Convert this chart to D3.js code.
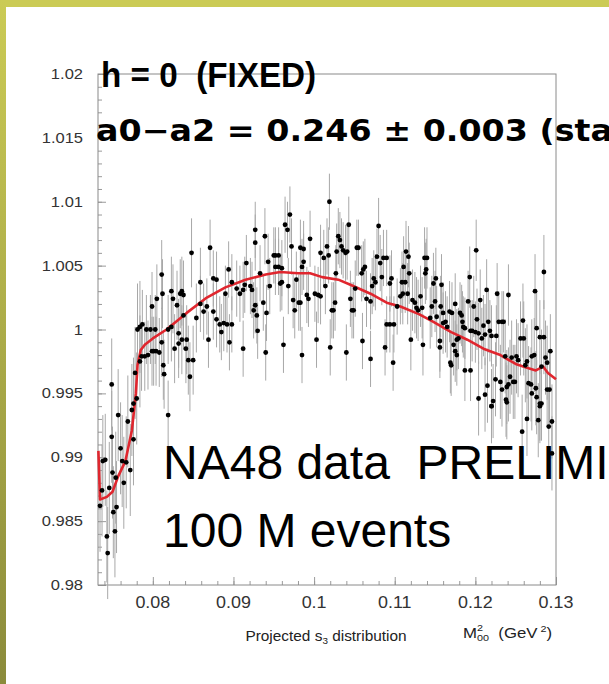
<!DOCTYPE html>
<html>
<head>
<meta charset="utf-8">
<script src="https://cdn.jsdelivr.net/npm/d3@7"></script>
<style>
  body { margin: 0; background: #fff; }
  svg { display: block; }
</style>
</head>
<body>
<svg id="chart"></svg>
<script>
// Data (M00^2 in GeV^2, data / fit ratio)

// left edge, cusp region
const edgePts = [
    [0.07345, 0.9862], [0.0737, 0.9874], [0.0738, 0.9897], [0.0741, 0.9898], [0.0743, 0.9838],
    [0.0744, 0.9825], [0.0746, 0.9876], [0.0749, 0.9916], [0.0749, 0.9957], [0.0750, 0.9888],
    [0.0751, 0.9857], [0.0753, 0.9842], [0.0754, 0.9884], [0.0755, 0.9861], [0.0757, 0.9933],
    [0.0760, 0.9907], [0.0762, 0.9897], [0.0764, 0.9880], [0.0767, 0.9896], [0.0769, 0.9928],
    [0.0772, 0.9890], [0.0774, 0.9937], [0.0776, 0.9914], [0.0776, 0.9942], [0.0778, 0.9966],
    [0.0780, 0.9946], [0.0781, 1.0000], [0.0784, 1.0002], [0.0784, 0.9975]
];

// rise after the cusp
const risePts = [
    [0.0786, 0.9979], [0.0787, 1.0004], [0.0790, 0.9979], [0.0792, 1.0000], [0.0794, 0.9980],
    [0.0797, 1.0000], [0.0799, 0.9983], [0.0799, 1.0018], [0.0801, 0.9983], [0.0803, 1.0000],
    [0.0804, 0.9983], [0.0805, 1.0024], [0.0808, 0.9982], [0.0811, 1.0043], [0.0811, 0.9990],
    [0.0812, 1.0028], [0.0813, 0.9972], [0.0814, 0.9965], [0.0819, 0.9933], [0.0819, 1.0000],
    [0.0823, 1.0002], [0.0823, 1.0030], [0.0825, 1.0024], [0.0827, 0.9985], [0.0830, 1.0019],
    [0.0832, 0.9997], [0.0832, 0.9989], [0.0834, 1.0028], [0.0836, 1.0030], [0.0836, 0.9992],
    [0.0838, 1.0027], [0.0838, 1.0011], [0.0841, 0.9985], [0.0842, 0.9992], [0.0844, 0.9976],
    [0.0846, 0.9963], [0.0848, 1.0060], [0.0850, 0.9976], [0.0854, 1.0009], [0.0859, 1.0037]
];

// broad maximum
const peakPts = [
    [0.0859, 1.0020], [0.0863, 1.0014], [0.0867, 1.0018], [0.0869, 0.9992], [0.0871, 1.0064],
    [0.0875, 1.0014], [0.0875, 1.0040], [0.0879, 1.0039], [0.0879, 1.0008], [0.0883, 1.0004],
    [0.0888, 1.0005], [0.0890, 1.0028], [0.0892, 1.0004], [0.0894, 1.0047], [0.0898, 1.0037],
    [0.0898, 1.0004], [0.0904, 1.0032], [0.0908, 1.0028], [0.0912, 1.0031], [0.0914, 1.0035],
    [0.0916, 1.0052], [0.0921, 1.0034], [0.0923, 1.0031], [0.0925, 1.0015], [0.0927, 1.0019],
    [0.0927, 1.0078], [0.0927, 1.0068], [0.0929, 1.0011], [0.0933, 1.0044], [0.0937, 1.0021],
    [0.0939, 1.0073], [0.0941, 1.0013], [0.0943, 1.0053], [0.0945, 1.0034], [0.0950, 1.0058],
    [0.0952, 1.0058], [0.0952, 1.0049], [0.0956, 1.0058], [0.0956, 1.0049], [0.0958, 1.0036],
    [0.0960, 1.0048], [0.0960, 1.0037], [0.0964, 1.0082], [0.0967, 1.0078], [0.0968, 1.0034],
    [0.0970, 1.0090], [0.0972, 1.0065], [0.0974, 1.0023], [0.0976, 1.0015], [0.0978, 1.0039],
    [0.0981, 1.0021], [0.0983, 1.0021], [0.0983, 1.0064], [0.0985, 1.0049], [0.0987, 1.0063],
    [0.0987, 1.0053], [0.0991, 1.0027], [0.0993, 1.0024], [0.0995, 1.0071], [0.1001, 1.0028],
    [0.1005, 1.0027], [0.1008, 1.0026], [0.1008, 1.0060], [0.1012, 1.0056], [0.1014, 1.0034],
    [0.1016, 1.0065], [0.1018, 1.0058], [0.1019, 1.0100], [0.1022, 1.0015], [0.1024, 1.0015],
    [0.1026, 1.0021], [0.1027, 1.0044], [0.1028, 1.0061], [0.1030, 1.0073], [0.1032, 1.0070],
    [0.1034, 1.0065], [0.1036, 1.0062], [0.1039, 1.0060], [0.1041, 1.0061], [0.1043, 1.0082],
    [0.1045, 1.0024], [0.1047, 1.0015], [0.1049, 1.0015], [0.1051, 1.0032], [0.1053, 1.0064],
    [0.1055, 1.0064], [0.1059, 1.0044], [0.1061, 1.0047], [0.1063, 1.0049], [0.1065, 1.0024],
    [0.1070, 1.0022], [0.1072, 1.0034], [0.1074, 1.0040], [0.1076, 1.0037], [0.1078, 1.0057],
    [0.1080, 1.0081], [0.1082, 1.0052], [0.1084, 1.0041], [0.1086, 1.0056], [0.1090, 1.0056],
    [0.1090, 1.0004], [0.1094, 1.0036], [0.1094, 1.0004], [0.1096, 1.0040], [0.1099, 1.0004],
    [0.1103, 1.0018], [0.1107, 1.0026]
];

// points below 1.000 under the maximum
const lowMidPts = [
    [0.0885, 0.9998], [0.0895, 0.9990], [0.0912, 0.9985], [0.0930, 0.9999], [0.0940, 0.9982],
    [0.0962, 0.9988], [0.0985, 0.9980], [0.1003, 0.9992], [0.1020, 0.9986], [0.1040, 0.9982],
    [0.1060, 0.9991], [0.1070, 0.9977], [0.1088, 0.9986], [0.1098, 0.9974]
];

// falling side
const fallPts = [
    [0.1114, 1.0061], [0.1117, 1.0057], [0.1111, 1.0049], [0.1118, 1.0044], [0.1109, 1.0037],
    [0.1113, 1.0037], [0.1110, 1.0028], [0.1116, 1.0028], [0.1137, 1.0056], [0.1140, 1.0056],
    [0.1139, 1.0047], [0.1138, 1.0044], [0.1148, 1.0036], [0.1151, 1.0040], [0.1158, 1.0035],
    [0.1122, 1.0023], [0.1125, 1.0021], [0.1127, 1.0017], [0.1129, 1.0015], [0.1134, 1.0017],
    [0.1132, 1.0026], [0.1120, 0.9992], [0.1135, 0.9988], [0.1146, 1.0018], [0.1150, 1.0022],
    [0.1157, 1.0018], [0.1160, 1.0013], [0.1163, 1.0006], [0.1165, 1.0002], [0.1168, 1.0014],
    [0.1171, 1.0013], [0.1175, 1.0020], [0.1144, 1.0009], [0.1152, 1.0010], [0.1160, 1.0005],
    [0.1156, 0.9991], [0.1156, 0.9986], [0.1183, 1.0011], [0.1181, 1.0013], [0.1184, 1.0006],
    [0.1185, 1.0002], [0.1187, 1.0001], [0.1191, 1.0022], [0.1193, 1.0041], [0.1194, 0.9999],
    [0.1196, 0.9999], [0.1198, 1.0018], [0.1200, 0.9998], [0.1202, 1.0008], [0.1201, 1.0062],
    [0.1206, 1.0023], [0.1204, 0.9997], [0.1208, 0.9993], [0.1210, 1.0003], [0.1212, 0.9996],
    [0.1214, 1.0031], [0.1216, 1.0006], [0.1218, 0.9999], [0.1220, 0.9995], [0.1226, 0.9995],
    [0.1227, 1.0028], [0.1229, 1.0006], [0.1233, 1.0006], [0.1235, 1.0006], [0.1241, 1.0027],
    [0.1173, 0.9988], [0.1175, 0.9983], [0.1177, 0.9992], [0.1179, 0.9993], [0.1177, 0.9980],
    [0.1169, 0.9974], [0.1170, 0.9972], [0.1187, 0.9968], [0.1194, 0.9968]
];

// tail towards 0.13
const tailPts = [
    [0.1204, 0.9946], [0.1212, 0.9949], [0.1215, 0.9956], [0.1222, 0.9944], [0.1220, 0.9940],
    [0.1225, 0.9961], [0.1231, 0.9959], [0.1233, 0.9953], [0.1239, 0.9955], [0.1241, 0.9957],
    [0.1243, 0.9963], [0.1247, 0.9959], [0.1249, 0.9959], [0.1237, 0.9979], [0.1245, 0.9978],
    [0.1251, 0.9979], [0.1253, 0.9976], [0.1256, 0.9993], [0.1260, 0.9993], [0.1259, 1.0007],
    [0.1238, 0.9945], [0.1262, 0.9972], [0.1264, 0.9975], [0.1270, 0.9979], [0.1273, 0.9980],
    [0.1274, 1.0030], [0.1276, 1.0001], [0.1280, 0.9994], [0.1282, 0.9971], [0.1285, 1.0045],
    [0.1287, 0.9978], [0.1289, 0.9974], [0.1289, 0.9953], [0.1282, 0.9942], [0.1285, 0.9994],
    [0.1292, 0.9953], [0.1293, 0.9983], [0.1295, 0.9928], [0.1278, 0.9929], [0.1264, 0.9930],
    [0.1266, 0.9958], [0.1269, 0.9957], [0.1275, 0.9954], [0.1270, 0.9950], [0.1280, 0.9940],
    [0.1276, 0.9947], [0.1220, 0.9940], [0.1239, 0.9943], [0.1280, 0.9942], [0.1258, 0.9920],
    [0.1291, 0.9924], [0.1295, 0.9903]
];

// statistical error (half length of the bars) per group
const groups = [
    {pts: edgePts, err: 0.0036},
    {pts: risePts, err: 0.0027},
    {pts: peakPts, err: 0.0022},
    {pts: lowMidPts, err: 0.0022},
    {pts: fallPts, err: 0.0024},
    {pts: tailPts, err: 0.0029}
];

// fitted curve (red)
const fitCurve = [
    [0.07325, 0.9905], [0.07345, 0.9867], [0.0743, 0.9869], [0.0750, 0.9873], [0.0757, 0.9885],
    [0.0766, 0.9897], [0.0774, 0.9921], [0.0779, 0.9950], [0.0781, 0.9972], [0.0785, 0.9984],
    [0.0790, 0.9988], [0.0800, 0.9993], [0.0817, 1.0000], [0.0842, 1.0013], [0.0867, 1.0025],
    [0.0890, 1.0033], [0.0915, 1.0039], [0.0940, 1.0043], [0.0958, 1.0045], [0.0980, 1.0044],
    [0.0995, 1.0044], [0.1010, 1.0041], [0.1030, 1.0039], [0.1045, 1.0035], [0.1070, 1.0028],
    [0.1090, 1.0021], [0.1107, 1.0018], [0.1130, 1.0012], [0.1148, 1.0006], [0.1170, 0.9998],
    [0.1190, 0.9992], [0.1210, 0.9985], [0.1231, 0.9980], [0.1250, 0.9973], [0.1264, 0.9970],
    [0.1275, 0.9968], [0.1284, 0.9971], [0.1290, 0.9966], [0.1300, 0.9961]
];

const yTicks = [0.98, 0.985, 0.99, 0.995, 1, 1.005, 1.01, 1.015, 1.02];
const yTickLabels = ['0.98', '0.985', '0.99', '0.995', '1', '1.005', '1.01', '1.015', '1.02'];
const xTicks = [0.08, 0.09, 0.1, 0.11, 0.12, 0.13];
const xTickLabels = ['0.08', '0.09', '0.1', '0.11', '0.12', '0.13'];

// Set standards
const width = 609;
const height = 684;
const plot = {left: 98, right: 556, top: 74, bottom: 585};

const svg = d3.select('#chart')
    .attr('width', width)
    .attr('height', height);

const x = d3.scaleLinear().domain([0.0732, 0.13]).range([plot.left, plot.right]);
const y = d3.scaleLinear().domain([0.98, 1.02]).range([plot.bottom, plot.top]);

// Slide border (olive bars on top and left)
const grad = svg.append('defs').append('linearGradient')
    .attr('id', 'side').attr('x1', 0).attr('x2', 0).attr('y1', 0).attr('y2', 1);
grad.append('stop').attr('offset', '0%').attr('stop-color', '#cbcb55');
grad.append('stop').attr('offset', '100%').attr('stop-color', '#8b8b3b');
svg.append('rect').attr('width', width).attr('height', 7).attr('fill', '#cbcb55');
svg.append('rect').attr('width', 6).attr('height', height).attr('fill', 'url(#side)');

// Minor and major ticks, pointing inwards
const tickColor = '#9a9a9a';
function styleAxis(g) {
    g.select('.domain').remove();
    g.selectAll('line').attr('stroke', tickColor);
}
svg.append('g').attr('transform', `translate(${plot.left},0)`)
    .call(d3.axisLeft(y).tickValues(d3.range(0.98, 1.0201, 0.001)).tickSize(-4).tickFormat(''))
    .call(styleAxis);
svg.append('g').attr('transform', `translate(${plot.left},0)`)
    .call(d3.axisLeft(y).tickValues(yTicks).tickSize(-8).tickFormat(''))
    .call(styleAxis);
svg.append('g').attr('transform', `translate(0,${plot.bottom})`)
    .call(d3.axisBottom(x).tickValues(d3.range(0.074, 0.1301, 0.002)).tickSize(-4).tickFormat(''))
    .call(styleAxis);
svg.append('g').attr('transform', `translate(0,${plot.bottom})`)
    .call(d3.axisBottom(x).tickValues(xTicks).tickSize(-8).tickFormat(''))
    .call(styleAxis);

// Frame
svg.append('rect')
    .attr('x', plot.left).attr('y', plot.top)
    .attr('width', plot.right - plot.left).attr('height', plot.bottom - plot.top)
    .attr('fill', 'none').attr('stroke', '#8a8a8a').attr('stroke-width', 1);

// Tick labels (the slide is stretched sideways, so are its labels)
svg.append('g').selectAll('text')
    .data(yTicks)
    .join('text')
    .attr('transform', d => `translate(83,${y(d) + 5}) scale(1.18,1)`)
    .attr('text-anchor', 'end')
    .attr('font-family', 'Liberation Sans, Arial, sans-serif')
    .attr('font-size', 14)
    .attr('fill', '#333')
    .text((d, i) => yTickLabels[i]);

svg.append('g').selectAll('text')
    .data(xTicks)
    .join('text')
    .attr('transform', d => `translate(${x(d)},608) scale(1.12,1)`)
    .attr('text-anchor', 'middle')
    .attr('font-family', 'Liberation Sans, Arial, sans-serif')
    .attr('font-size', 16)
    .attr('fill', '#333')
    .text((d, i) => xTickLabels[i]);

// Error bars and points
const plotArea = svg.append('g');
groups.forEach(grp => {
    plotArea.append('g').selectAll('line')
        .data(grp.pts)
        .join('line')
        .attr('x1', d => x(d[0])).attr('x2', d => x(d[0]))
        .attr('y1', d => y(d[1] - grp.err)).attr('y2', d => y(d[1] + grp.err))
        .attr('stroke', '#a8a8a8')
        .attr('stroke-width', 1);
});

// Fit curve
plotArea.append('path')
    .datum(fitCurve)
    .attr('d', d3.line().x(d => x(d[0])).y(d => y(d[1])))
    .attr('fill', 'none')
    .attr('stroke', '#e0262e')
    .attr('stroke-width', 2.6)
    .attr('stroke-linejoin', 'round');

groups.forEach(grp => {
    plotArea.append('g').selectAll('circle')
        .data(grp.pts)
        .join('circle')
        .attr('cx', d => x(d[0]))
        .attr('cy', d => y(d[1]))
        .attr('r', 2.4)
        .attr('fill', '#000');
});

// Axis titles
const title = svg.append('text')
    .attr('transform', 'translate(326,641) scale(1.1,1)')
    .attr('text-anchor', 'middle')
    .attr('font-family', 'Liberation Sans, Arial, sans-serif')
    .attr('font-size', 14)
    .attr('fill', '#222');
title.append('tspan').text('Projected s');
title.append('tspan').attr('font-size', 9).attr('dy', 3).text('3');
title.append('tspan').attr('dy', -3).text(' distribution');

const mTitle = svg.append('text')
    .attr('transform', 'translate(463,638) scale(1.2,1)')
    .attr('font-family', 'Liberation Sans, Arial, sans-serif')
    .attr('font-size', 14)
    .attr('fill', '#222')
    .style('white-space', 'pre');
mTitle.append('tspan').text('M');
mTitle.append('tspan').attr('font-size', 9).attr('dy', -7).text('2');
mTitle.append('tspan').attr('font-size', 9).attr('dx', -5).attr('dy', 10).text('00');
mTitle.append('tspan').attr('dy', -3).text('  (GeV');
mTitle.append('tspan').attr('font-size', 9).attr('dy', -6).text(' 2');
mTitle.append('tspan').attr('dy', 6).text(')');

// Slide annotations
svg.append('text')
    .attr('transform', 'translate(101,87) scale(0.95,1)')
    .attr('font-family', 'Liberation Sans, Arial, sans-serif')
    .attr('font-weight', 'bold')
    .attr('font-size', 35)
    .attr('fill', '#000')
    .style('white-space', 'pre')
    .text('h = 0  (FIXED)');

svg.append('text')
    .attr('transform', 'translate(96,141) scale(1.11,1)')
    .attr('font-family', 'DejaVu Sans, sans-serif')
    .attr('font-weight', 'bold')
    .attr('font-size', 30)
    .attr('fill', '#000')
    .text('a0\u2212a2 = 0.246 \u00b1 0.003 (stat)');

svg.append('text')
    .attr('x', 163).attr('y', 479)
    .attr('font-family', 'Liberation Sans, Arial, sans-serif')
    .attr('font-size', 48)
    .attr('fill', '#000')
    .style('white-space', 'pre')
    .text('NA48 data  PRELIMINARY');

svg.append('text')
    .attr('x', 163).attr('y', 547)
    .attr('font-family', 'Liberation Sans, Arial, sans-serif')
    .attr('font-size', 48)
    .attr('fill', '#000')
    .text('100 M events');
</script>
</body>
</html>
